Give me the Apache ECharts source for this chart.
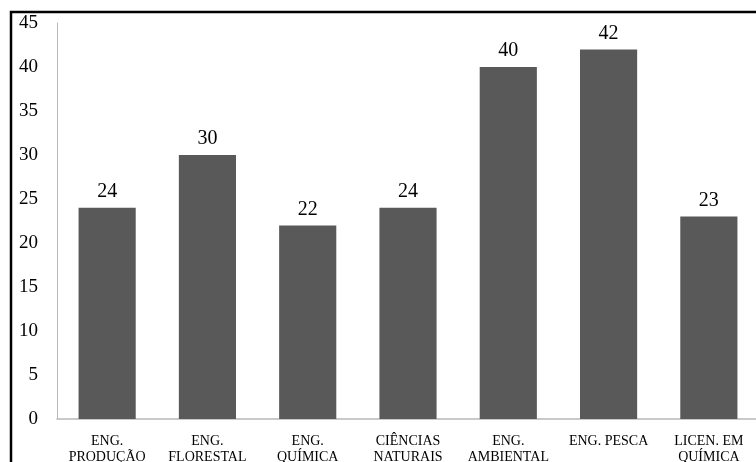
<!DOCTYPE html>
<html>
<head>
<meta charset="utf-8">
<script src="https://cdn.jsdelivr.net/npm/echarts@6/dist/echarts.min.js"></script>
<style>
  html, body { margin: 0; padding: 0; background: #fff; }
  #chart { width: 756px; height: 462px; }
</style>
</head>
<body>
<div id="chart"></div>
<script>
// categories and values
const cursos = [
  "ENG.\nPRODUÇÃO",
  "ENG.\nFLORESTAL",
  "ENG.\nQUÍMICA",
  "CIÊNCIAS\nNATURAIS",
  "ENG.\nAMBIENTAL",
  "ENG. PESCA",
  "LICEN. EM\nQUÍMICA"
];
const alunos = [24, 30, 22, 24, 40, 42, 23];
const yTicks = [0, 5, 10, 15, 20, 25, 30, 35, 40, 45];

const myChart = echarts.init(document.getElementById("chart"));
const serif = "'Liberation Serif', 'DejaVu Serif', serif";

myChart.setOption({
  animation: false,
  grid: {
    left: 57,
    right: -3,
    top: 23,
    bottom: 43,
    outerBoundsMode: "none",
  },
  graphic: [
    {
      type: "rect",
      shape: { x: 11, y: 12, width: 800, height: 500 },
      style: { fill: "none", stroke: "#000", lineWidth: 2.5 },
    },
  ],
  xAxis: {
    type: "category",
    data: cursos,
    axisTick: { show: false },
    axisLine: { lineStyle: { color: "#b8b8b8", width: 1.5 } },
    axisLabel: {
      interval: 0,
      color: "#000",
      fontFamily: serif,
      fontSize: 14,
      lineHeight: 16,
      margin: 14,
    },
  },
  yAxis: {
    type: "value",
    min: yTicks[0],
    max: yTicks[yTicks.length - 1],
    interval: 5,
    axisLine: { show: true, lineStyle: { color: "#b8b8b8", width: 1 } },
    axisTick: { show: false },
    splitLine: { show: false },
    axisLabel: {
      color: "#000",
      fontFamily: serif,
      fontSize: 19,
      margin: 19,
    },
  },
  series: [
    {
      type: "bar",
      data: alunos,
      barWidth: "57%",
      itemStyle: { color: "#595959" },
      label: {
        show: true,
        position: "top",
        distance: 6,
        color: "#000",
        fontFamily: serif,
        fontSize: 20,
      },
    },
  ],
});
</script>
</body>
</html>
